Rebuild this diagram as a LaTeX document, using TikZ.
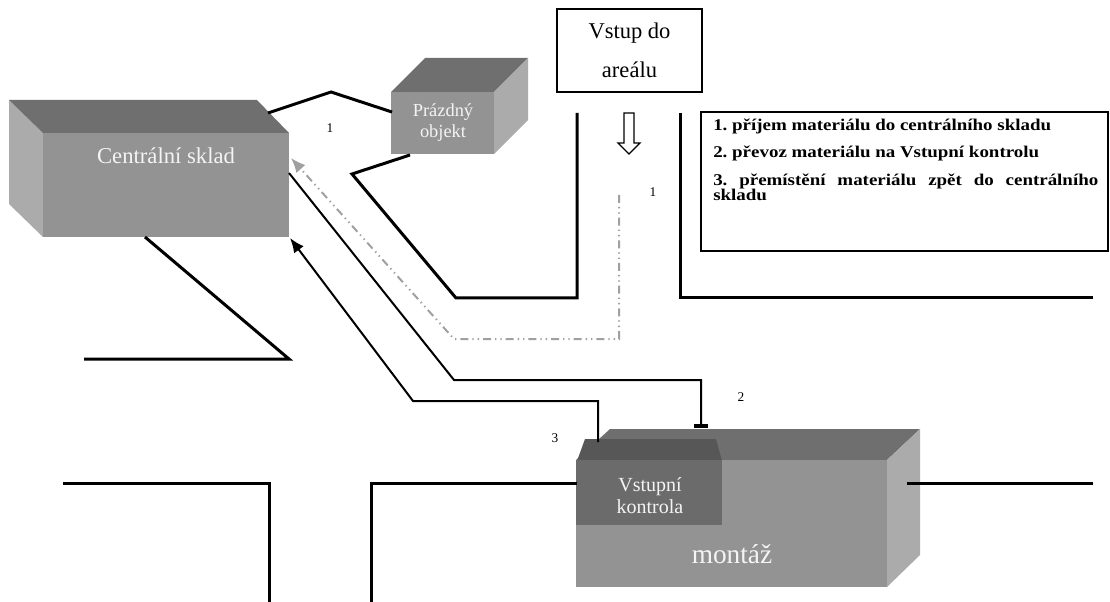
\documentclass[tikz,border=0pt]{standalone}
\usepackage{fontspec}
\setmainfont{Liberation Serif}
\usetikzlibrary{arrows.meta,fit}
\definecolor{facefront}{HTML}{939393}
\definecolor{facetop}{HTML}{6F6F6F}
\definecolor{faceside}{HTML}{ABABAB}
\definecolor{ktop}{HTML}{575757}
\definecolor{kfront}{HTML}{6B6B6B}
\definecolor{pathgray}{HTML}{A0A0A0}
\definecolor{labelwhite}{HTML}{F4F4F4}
\frenchspacing
\begin{document}
\begin{tikzpicture}[x=0.75pt,y=-0.75pt,
  frontface/.style={inner sep=0pt, outer sep=0pt},
  road/.style={line width=2.25pt, line join=miter},
  link/.style={line width=1.5pt},
  boxlabel/.style={text=labelwhite, align=center, inner sep=0pt},
  num/.style={font=\fontsize{10}{11}\selectfont, inner sep=0pt},
  legendline/.style={font=\bfseries\fontsize{12.3}{13}\selectfont, inner sep=0pt, anchor=base west},
  grayline/.style={draw=pathgray, line width=1.5pt,
    dash pattern=on 6pt off 3pt on 1pt off 3pt on 1pt off 3pt}]
\useasboundingbox (0,0) rectangle (1110,602);

% --- Centralni sklad (3D box) ---
\fill[faceside] (9,100) -- (43,133) -- (43,237) -- (9,204) -- cycle;
\fill[facetop] (9,100) -- (257,100) -- (289,133) -- (43,133) -- cycle;
\node[frontface, fill=facefront, fit={(43,133) (289,237)}] (sklad) {};
\node[boxlabel, font=\fontsize{17}{20}\selectfont] (skladlabel) at (166,156) {Centrální sklad};

% --- Prazdny objekt (3D box) ---
\fill[facetop] (391,92) -- (425,58) -- (528,58) -- (494,92) -- cycle;
\fill[faceside] (494,92) -- (528,58) -- (528,120) -- (494,154) -- cycle;
\node[frontface, fill=facefront, fit={(391,92) (494,154)}] (prazdny) {};
\node[boxlabel, font=\fontsize{13.8}{15.8}\selectfont] (prazdnylabel) at (443,123) {Prázdný\\objekt};

% --- montaz with Vstupni kontrola ---
\fill[facetop] (576,460) -- (610,429) -- (920,429) -- (887,460) -- cycle;
\fill[faceside] (887,460) -- (920,429) -- (920,555) -- (887,587) -- cycle;
\node[frontface, fill=facefront, fit={(576,460) (887,587)}] (montaz) {};
\node[boxlabel, font=\fontsize{20.5}{24}\selectfont] (montazlabel) at (732,554) {montáž};
\fill[ktop] (577,461) -- (585,439) -- (716,439) -- (722,461) -- cycle;
\node[frontface, fill=kfront, fit={(576,460) (722,525)}] (kontrola) {};
\node[boxlabel, font=\fontsize{15}{16.5}\selectfont] (kontrolalabel) at (650,496) {Vstupní\\kontrola};

% --- entrance box and arrow ---
\node[draw, line width=1.5pt, fit={(557,9) (702,92)}, inner sep=0pt] (vstup) {};
\node[align=center, inner sep=0pt, font=\fontsize{16.9}{29}\selectfont] (vstuplabel) at (vstup.center) {Vstup do\\areálu};
\draw[line width=0.9pt, fill=white] (624,113) -- (634,113) -- (634,143) -- (640,143)
  -- (629,154) -- (618,143) -- (624,143) -- cycle;

% --- roads ---
\draw[road] (268,113) -- (331,92) -- (392,112);
\draw[road] (577,113) -- (577,298) -- (456,298) -- (352,174) -- (410,155);
\draw[road] (680,113) -- (680,298) -- (1093,298);
\draw[road] (145,237) -- (289,359) -- (84,359);
\draw[road] (63,483) -- (269,483) -- (269,602);
\draw[road] (371,602) -- (371,483) -- (577,483);
\draw[road] (907,483) -- (1093,483);

% --- legend ---
\draw[line width=1.5pt] (1108,112) -- (701,112) -- (701,251) -- (1108,251) -- cycle;
\node[legendline] (leg1) at (713,131) {\scalebox{1.155}[1]{1. příjem materiálu do centrálního skladu}};
\node[legendline] (leg2) at (713,158) {\scalebox{1.155}[1]{2. převoz materiálu na Vstupní kontrolu}};
\node[legendline] (leg3) at (713,186) {\scalebox{1.155}[1]{\makebox[250pt][s]{3. přemístění materiálu zpět do centrálního}}};
\node[legendline] (leg4) at (713,201) {\scalebox{1.155}[1]{skladu}};

% --- material flows ---
\coordinate (g0) at (619,195);
\coordinate (g1) at (619,339);
\coordinate (g2) at (454,339);
\coordinate (g3) at (291,158);
\draw[grayline, -{Latex[length=11pt,width=9pt,fill=pathgray]}] (g0) -- (g1) -- (g2) -- (g3);

\coordinate (b0) at (289,173);
\coordinate (b1) at (454,380);
\coordinate (b2) at (701,380);
\coordinate (b3) at (701,428);
\draw[link, -{Bar[width=11pt,line width=3pt]}] (b0) -- (b1) -- (b2) -- (b3);

\coordinate (c0) at (598,442);
\coordinate (c1) at (598,401);
\coordinate (c2) at (413,401);
\coordinate (c3) at (290,238);
\draw[link, -{Latex[length=11pt,width=9pt]}] (c0) -- (c1) -- (c2) -- (c3);

% --- step numbers ---
\node[num] (n1a) at (330,128) {1};
\node[num] (n1b) at (653,192) {1};
\node[num] (n2) at (741,397) {2};
\node[num] (n3) at (555,438) {3};
\end{tikzpicture}
\end{document}
